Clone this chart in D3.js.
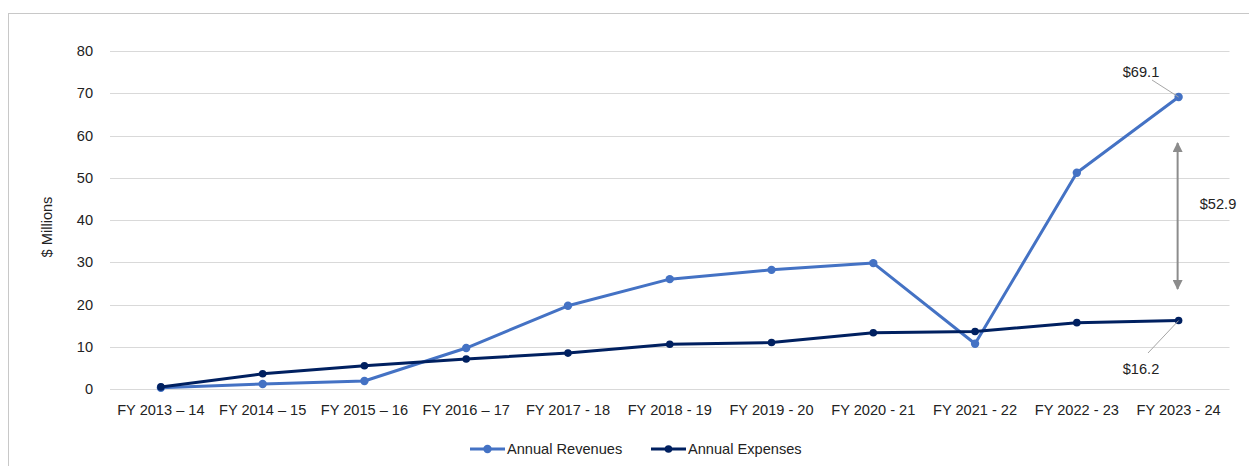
<html>
<head>
    <title>revenues vs expenses</title>
</head>
<body style="margin: 0; background: #fff;">
    <svg style="position: absolute; left: 0; top: 0;"></svg>
</body>

<script src="https://cdn.jsdelivr.net/npm/d3@7"></script>
<script>
const width = 1249;
const height = 466;

const years = ['FY 2013 \u2013 14', 'FY 2014 \u2013 15', 'FY 2015 \u2013 16', 'FY 2016 \u2013 17',
    'FY 2017 - 18', 'FY 2018 - 19', 'FY 2019 - 20', 'FY 2020 - 21', 'FY 2021 - 22',
    'FY 2022 - 23', 'FY 2023 - 24'];
const revenues = [0.3, 1.2, 1.9, 9.7, 19.7, 26.0, 28.2, 29.8, 10.7, 51.2, 69.1];
const expenses = [0.5, 3.6, 5.5, 7.1, 8.5, 10.6, 11.0, 13.3, 13.6, 15.7, 16.2];
const yTicks = [0, 10, 20, 30, 40, 50, 60, 70, 80];
const seriesNames = ['Annual Revenues', 'Annual Expenses'];
const colors = ['#4472c4', '#002060'];

const font = '"Liberation Sans", Arial, sans-serif';
const fs = 14.6;

const svg = d3.select("svg")
    .attr("width", width)
    .attr("height", height)
    .style("font-family", font);

// chart border
svg.append("rect")
    .attr("x", 8.5).attr("y", 13.5)
    .attr("width", 1260).attr("height", 480)
    .attr("fill", "none")
    .attr("stroke", "#c8c8c8")
    .attr("stroke-width", 1);

const x = d3.scaleBand().domain(years).range([110, 1229.5]);
const y = d3.scaleLinear().domain([0, 80]).range([389, 51]);
const xc = d => x(d) + x.bandwidth() / 2;

// grid
svg.append("g")
    .selectAll("line")
    .data(yTicks)
    .join("line")
    .attr("x1", 110).attr("x2", 1229.5)
    .attr("y1", d => Math.round(y(d)) + .5)
    .attr("y2", d => Math.round(y(d)) + .5)
    .attr("stroke", "#d9d9d9")
    .attr("stroke-width", 1);

// y labels
svg.append("g")
    .selectAll("text")
    .data(yTicks)
    .join("text")
    .attr("x", 93)
    .attr("y", d => y(d) + 5)
    .attr("text-anchor", "end")
    .attr("font-size", fs)
    .attr("fill", "#222")
    .text(d => d);

svg.append("text")
    .attr("transform", "translate(52, 227) rotate(-90)")
    .attr("text-anchor", "middle")
    .attr("font-size", fs)
    .attr("fill", "#222")
    .text("$ Millions");

// x labels
svg.append("g")
    .selectAll("text")
    .data(years)
    .join("text")
    .attr("x", d => xc(d))
    .attr("y", 415)
    .attr("text-anchor", "middle")
    .attr("font-size", fs)
    .attr("fill", "#222")
    .text(d => d);

// series
const series = [revenues, expenses];
const line = d3.line()
    .x((d, i) => xc(years[i]))
    .y(d => y(d));

series.forEach((vals, k) => {
    svg.append("path")
        .datum(vals)
        .attr("d", line)
        .attr("fill", "none")
        .attr("stroke", colors[k])
        .attr("stroke-width", 3)
        .attr("stroke-linejoin", "round");
    svg.append("g")
        .selectAll("circle")
        .data(vals)
        .join("circle")
        .attr("cx", (d, i) => xc(years[i]))
        .attr("cy", d => y(d))
        .attr("r", k == 0 ? 4.2 : 3.8)
        .attr("fill", colors[k]);
});

// annotations
const last = years[years.length - 1];
const lx = xc(last);
const ann = svg.append("g").attr("stroke", "#a6a6a6").attr("stroke-width", 1);
ann.append("line")
    .attr("x1", 1152).attr("y1", 80)
    .attr("x2", lx).attr("y2", y(revenues[10]));
ann.append("line")
    .attr("x1", 1148).attr("y1", 353)
    .attr("x2", lx).attr("y2", y(expenses[10]));

svg.append("text")
    .attr("x", 1141).attr("y", 77)
    .attr("text-anchor", "middle")
    .attr("font-size", fs).attr("fill", "#222")
    .text("$" + revenues[10].toFixed(1));
svg.append("text")
    .attr("x", 1141).attr("y", 374)
    .attr("text-anchor", "middle")
    .attr("font-size", fs).attr("fill", "#222")
    .text("$" + expenses[10].toFixed(1));

// gap arrow
const defs = svg.append("defs");
defs.append("marker")
    .attr("id", "arr")
    .attr("viewBox", "0 0 10 10")
    .attr("refX", 9).attr("refY", 5)
    .attr("markerWidth", 5).attr("markerHeight", 5)
    .attr("markerUnits", "strokeWidth")
    .attr("orient", "auto-start-reverse")
    .append("path")
    .attr("d", "M0,0 L10,5 L0,10 z")
    .attr("fill", "#8c8c8c");

svg.append("line")
    .attr("x1", lx - 1).attr("x2", lx - 1)
    .attr("y1", 143).attr("y2", 289)
    .attr("stroke", "#8c8c8c")
    .attr("stroke-width", 2)
    .attr("marker-start", "url(#arr)")
    .attr("marker-end", "url(#arr)");

svg.append("text")
    .attr("x", 1218).attr("y", 209)
    .attr("text-anchor", "middle")
    .attr("font-size", fs).attr("fill", "#222")
    .text("$" + (revenues[10] - expenses[10]).toFixed(1));

// legend
const legX = [470, 651];
const leg = svg.append("g")
    .selectAll("g")
    .data(seriesNames)
    .join("g")
    .attr("transform", (d, i) => `translate(${legX[i]}, 449)`);
leg.append("line")
    .attr("x1", 0).attr("x2", 35)
    .attr("stroke", (d, i) => colors[i])
    .attr("stroke-width", 3);
leg.append("circle")
    .attr("cx", 17.5).attr("r", (d, i) => i == 0 ? 4.2 : 3.8)
    .attr("fill", (d, i) => colors[i]);
leg.append("text")
    .attr("x", 37).attr("y", 5)
    .attr("font-size", fs).attr("fill", "#222")
    .text(d => d);
</script>
</html>
